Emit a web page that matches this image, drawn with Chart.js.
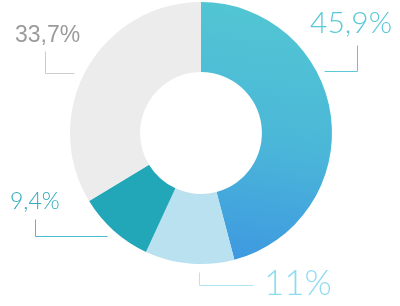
<!DOCTYPE html>
<html>
<head>
<meta charset="utf-8">
<script src="https://cdn.jsdelivr.net/npm/chart.js@4"></script>
<style>
  html, body { margin: 0; padding: 0; background: #fff; }
  #wrap { width: 400px; height: 306px; position: relative; }
</style>
</head>
<body>
<div id="wrap"><canvas id="donut"></canvas></div>
<script>
// 0. Data (clockwise from 12 o'clock).
const labels = ["45,9%", "11%", "9,4%", "33,7%"];
const values = [45.9, 11, 9.4, 33.7];
const sliceColors = [null, "#b9e1ef", "#22a7b8", "#ececec"]; // first slice = gradient
const labelColors = ["#5ac8d7", "#8ddcf2", "#2eaabc", "#9b9b9b"];
const lineColors = ["#5cc8d6", "#b3e6f4", "#4bbccb", "#cccccc"];

// Label layout, offsets from the doughnut centre (px).
const labelFonts = [
  "300 30px Lato",
  "300 35px Lato",
  "300 23px Lato",
  "300 23px 'Liberation Sans', Arial, sans-serif",
];
const labelPos = [[109, -100], [63, 162], [-191, 76], [-186, -91]];
const leaderLines = [
  [[156, -88], [156, -62], [123, -62]],
  [[-2, 139], [-2, 152], [52, 152]],
  [[-166, 86], [-166, 103], [-94, 103]],
  [[-156, -82], [-156, -60], [-127, -60]],
];

// 1. Gradient for the big slice (teal at top -> blue at bottom).
function bigSliceGradient(ctx) {
  const area = ctx.chart.chartArea;
  if (!area) return "#4bb8d8";
  const g = ctx.chart.ctx.createLinearGradient(
    area.left + area.width * 0.65, area.top,
    area.left + area.width * 0.5, area.bottom
  );
  g.addColorStop(0, "#52c6d3");
  g.addColorStop(0.5, "#4bb7d8");
  g.addColorStop(1, "#3d97e1");
  return g;
}

// 2. Plugin: leader lines + percentage labels.
const leaderLabels = {
  id: "leaderLabels",
  afterDraw(chart) {
    const arc = chart.getDatasetMeta(0).data[0];
    if (!arc) return;
    const cx = arc.x;
    const cy = arc.y;
    const ctx = chart.ctx;
    ctx.save();
    ctx.lineWidth = 1;
    leaderLines.forEach((pts, i) => {
      ctx.strokeStyle = lineColors[i];
      ctx.beginPath();
      pts.forEach(([dx, dy], k) => {
        const x = Math.round(cx + dx) + 0.5;
        const y = Math.round(cy + dy) + 0.5;
        if (k === 0) ctx.moveTo(x, y);
        else ctx.lineTo(x, y);
      });
      ctx.stroke();
    });
    ctx.textAlign = "left";
    ctx.textBaseline = "alphabetic";
    labels.forEach((text, i) => {
      ctx.font = labelFonts[i];
      ctx.fillStyle = labelColors[i];
      ctx.fillText(text, cx + labelPos[i][0], cy + labelPos[i][1]);
    });
    ctx.restore();
  },
};

// 3. Build the chart.
new Chart(document.querySelector("#donut").getContext("2d"), {
  type: "doughnut",
  data: {
    labels: labels,
    datasets: [
      {
        data: values,
        backgroundColor: (ctx) =>
          ctx.dataIndex === 0 ? bigSliceGradient(ctx) : sliceColors[ctx.dataIndex],
        borderWidth: 0,
        hoverOffset: 0,
      },
    ],
  },
  options: {
    responsive: true,
    maintainAspectRatio: false,
    animation: false,
    cutout: "46.5%",
    rotation: 0,
    layout: { padding: { top: 2, bottom: 42, left: 70, right: 68 } },
    plugins: {
      legend: { display: false },
      tooltip: { enabled: false },
    },
  },
  plugins: [leaderLabels],
});
</script>
</body>
</html>
